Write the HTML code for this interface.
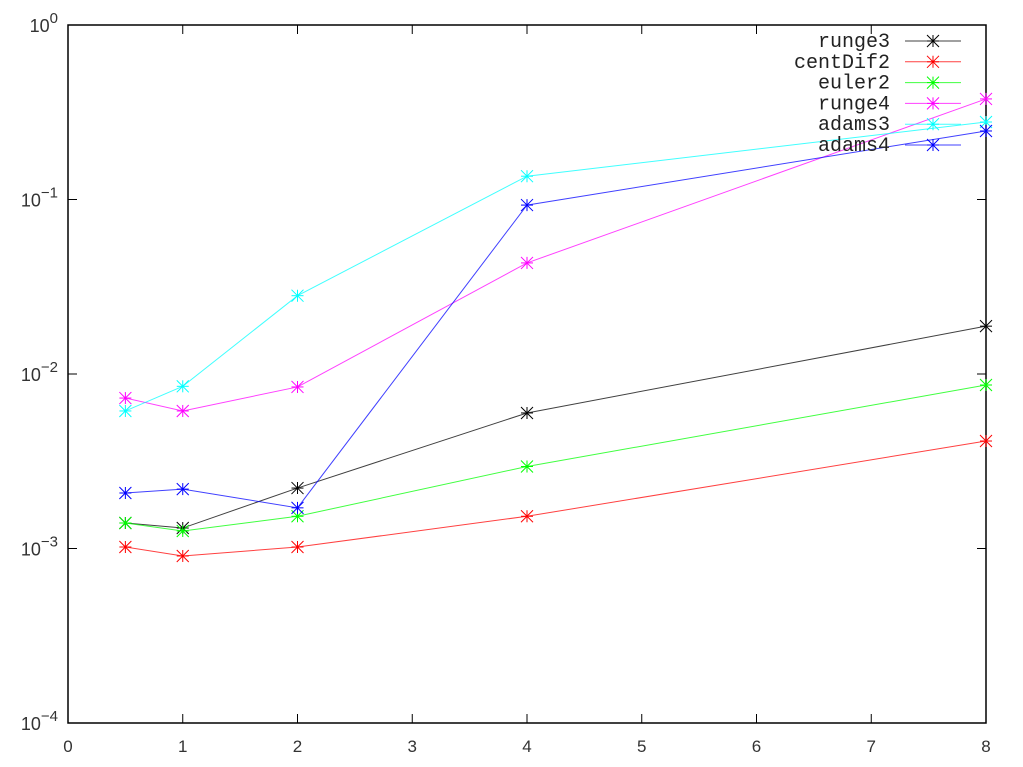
<!DOCTYPE html>
<html><head><meta charset="utf-8"><style>body{margin:0;background:#fff}svg{display:block}</style></head>
<body>
<svg id="c" width="1023" height="767" xmlns="http://www.w3.org/2000/svg" font-family="Liberation Sans, sans-serif"></svg>
<script>
const xs=[0.5,1,2,4,8];
const runge3=[1.40e-3,1.31e-3,2.22e-3,5.98e-3,1.88e-2];
const centDif2=[1.02e-3,9.06e-4,1.02e-3,1.53e-3,4.13e-3];
const euler2=[1.40e-3,1.26e-3,1.53e-3,2.95e-3,8.65e-3];
const runge4=[7.28e-3,6.14e-3,8.43e-3,4.33e-2,0.377];
const adams3=[6.14e-3,8.5e-3,2.81e-2,0.136,0.278];
const adams4=[2.08e-3,2.19e-3,1.71e-3,9.29e-2,0.247];
const seriesNames=["runge3","centDif2","euler2","runge4","adams3","adams4"];
const xTicks=[0,1,2,3,4,5,6,7,8];
const yExps=[0,-1,-2,-3,-4];
const colors=["#000","#f00","#0f0","#f0f","#0ff","#00f"];
const data=[runge3,centDif2,euler2,runge4,adams3,adams4];
const L=68,R=986,T=25,B=723;
const X=v=>L+(v-0)/8*(R-L);
const Y=v=>T+(-Math.log10(v))/4*(B-T);
const s=document.getElementById('c');const NS="http://www.w3.org/2000/svg";
function mk(t,a,p){const e=document.createElementNS(NS,t);for(const k in a)e.setAttribute(k,a[k]);(p||s).appendChild(e);return e;}
let f=mk('rect',{x:L,y:T,width:R-L,height:B-T,fill:'none',stroke:'#000','stroke-width':1.5});


xTicks.forEach(t=>{
 const x=X(t);
 mk('line',{x1:x,y1:B,x2:x,y2:B-9,stroke:'#000'});
 mk('line',{x1:x,y1:T,x2:x,y2:T+9,stroke:'#000'});
 const tx=mk('text',{x:x,y:752,'text-anchor':'middle','font-size':17,fill:'#333'});tx.textContent=t;
 
 
});
yExps.forEach(e=>{
 const y=Y(Math.pow(10,e));
 mk('line',{x1:L,y1:y,x2:L+9,y2:y,stroke:'#000'});
 mk('line',{x1:R,y1:y,x2:R-9,y2:y,stroke:'#000'});
 const tx=mk('text',{x:58,y:y+7,'text-anchor':'end','font-size':18,fill:'#333'});
 
 
 const a=mk('tspan',{},tx);a.textContent='10';
 const b=mk('tspan',{dy:-9,'font-size':15},tx);b.textContent=String(e).replace('-','−');
});
function star(x,y,c,g){
 const r=6;
 mk('line',{x1:x-r,y1:y,x2:x+r,y2:y,stroke:c},g);
 mk('line',{x1:x,y1:y-r,x2:x,y2:y+r,stroke:c},g);
 mk('line',{x1:x-r,y1:y-r,x2:x+r,y2:y+r,stroke:c},g);
 mk('line',{x1:x-r,y1:y+r,x2:x+r,y2:y-r,stroke:c},g);
}
data.forEach((d,i)=>{
 const g=mk('g',{});
 
 
 mk('polyline',{points:d.map((v,j)=>X(xs[j])+','+Y(v)).join(' '),fill:'none',stroke:colors[i],'stroke-width':1,'stroke-opacity':0.75},g);
 d.forEach((v,j)=>star(X(xs[j]),Y(v),colors[i],g));
 const ly=41+i*20.8;
 const lg=mk('g',{});
 
 
 const t=mk('text',{x:890,y:ly+6,'text-anchor':'end','font-size':20,'font-family':'Liberation Mono, monospace',fill:'#222'},lg);t.textContent=seriesNames[i];
 mk('line',{x1:905,y1:ly,x2:961,y2:ly,stroke:colors[i],'stroke-opacity':0.75},lg);
 star(933,ly,colors[i],lg);
});
</script>
</body></html>
